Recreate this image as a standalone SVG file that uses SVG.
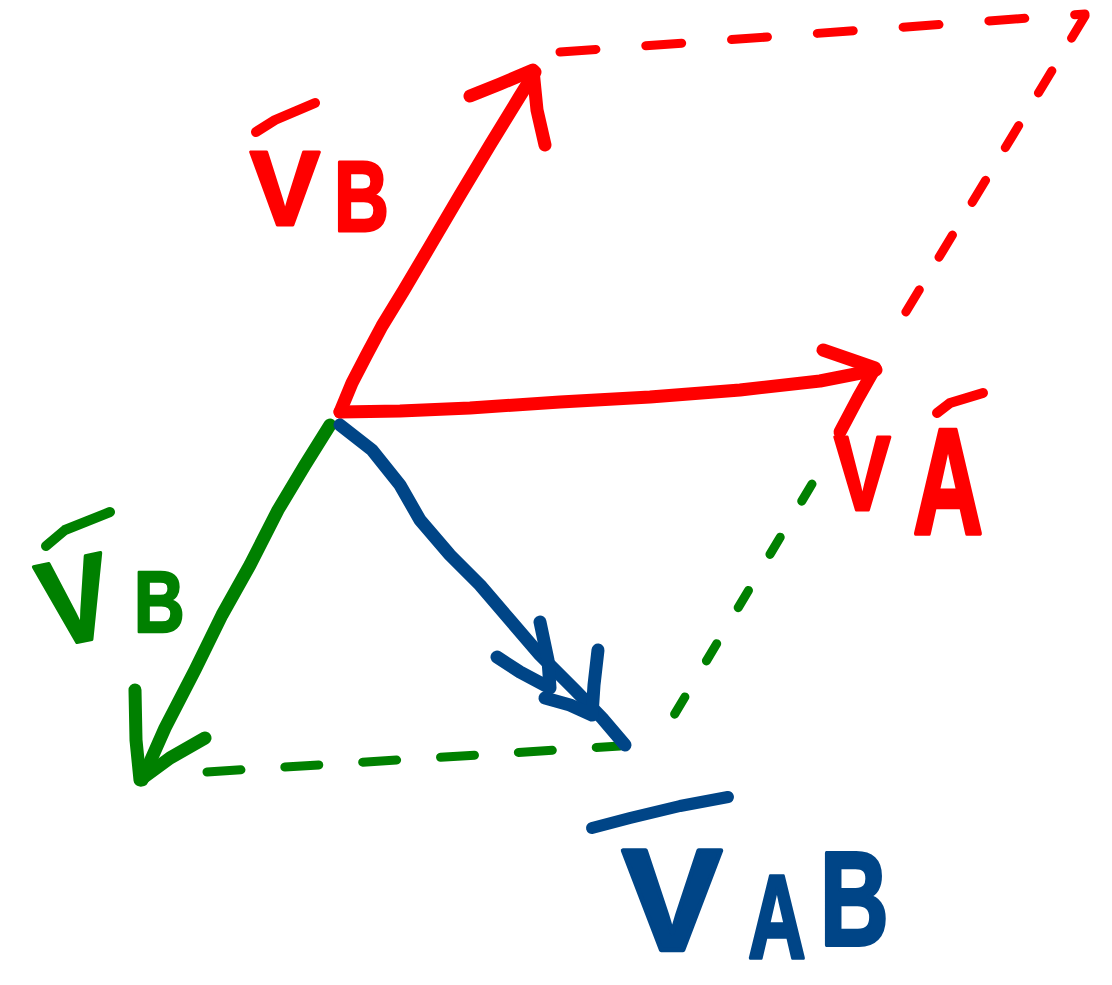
<svg xmlns="http://www.w3.org/2000/svg" width="1112" height="985" viewBox="0 0 1112 985">
<style>
.s{fill:none;stroke-linecap:round;stroke-linejoin:round}
.r{stroke:#ff0000}.g{stroke:#008000}.b{stroke:#004587}
.v{stroke-width:13}.d{stroke-width:9}
.t{font-family:"Liberation Sans",Arial,sans-serif;font-weight:bold;font-size:100px;stroke-width:3;stroke-linejoin:round}
.tr{fill:#ff0000;stroke:#ff0000}.tg{fill:#008000;stroke:#008000}.tb{fill:#004587;stroke:#004587}
</style>
<rect width="1112" height="985" fill="#ffffff"/>
<g id="connectors">
  <path class="s r d" d="M560,52 L1085,14" stroke-dasharray="36 50"/>
  <path class="s r d" d="M1085,16 L898,325" stroke-dasharray="26 38"/>
  <path class="s g d" d="M207,772 L620,746" stroke-dasharray="34 44"/>
  <path class="s g d" d="M812,484 L658,742" stroke-dasharray="20 42"/>
</g>
<g id="vector-vb-red">
  <path class="s r v" d="M340,412 L352,383 L366,356 L382,326 L404,290 L430,246 L460,195 L490,145 L520,96 L535,72"/>
  <path class="s r v" d="M470,96 L500,84 L533,70 L537,110 L545,145"/>
</g>
<g id="vector-va-red">
  <path class="s r v" d="M340,412 L400,411 L470,408 L560,402 L650,397 L740,390 L820,381 L876,370"/>
  <path class="s r v" d="M823,350 L852,360 L875,368 L858,398 L840,432"/>
</g>
<g id="vector-vb-green">
  <path class="s g v" d="M330,425 L305,465 L278,510 L250,565 L222,615 L195,670 L165,728 L142,780"/>
  <path class="s g v" d="M135,690 L136,740 L140,780 L170,758 L205,738"/>
</g>
<g id="vector-vab-blue">
  <path class="s b v" d="M340,425 L372,450 L400,485 L420,520 L450,555 L480,585 L510,620 L540,655 L575,690 L602,718 L625,745"/>
  <path class="s b v" d="M540,622 L548,660 L550,688 L520,672 L497,657"/>
  <path class="s b v" d="M598,650 L594,685 L592,715 L570,705 L545,698"/>
</g>
<g id="label-vb-red">
  <path class="s r" stroke-width="10" d="M256,132 L275,120 L315,103"/>
  <text class="t tr" transform="translate(250,225) scale(1.05,1.05)">V</text>
  <text class="t tr" transform="translate(334,231) scale(0.76,1.0)">B</text>
</g>
<g id="label-va-red">
  <path class="s r" stroke-width="10" d="M937,413 L950,403 L983,393"/>
  <text class="t tr" transform="translate(834,510) scale(0.85,1.05)">V</text>
  <text class="t tr" transform="translate(913,533) scale(0.97,1.5)">A</text>
</g>
<g id="label-vb-green">
  <path class="s g" stroke-width="10" d="M46,546 L65,530 L110,512"/>
  <text class="t tg" transform="translate(50,648) rotate(-12) scale(1.05,1.2)">V</text>
  <text class="t tg" transform="translate(134,632) scale(0.7,0.87)">B</text>
</g>
<g id="label-vab-blue">
  <path class="s b" stroke-width="12" d="M592,828 L630,818 L680,806 L728,797"/>
  <text class="t tb" transform="translate(622,950) scale(1.5,1.45)">V</text>
  <text class="t tb" transform="translate(748,958) scale(0.8,1.18)">A</text>
  <text class="t tb" transform="translate(820,945) scale(0.95,1.33)">B</text>
</g>
</svg>
